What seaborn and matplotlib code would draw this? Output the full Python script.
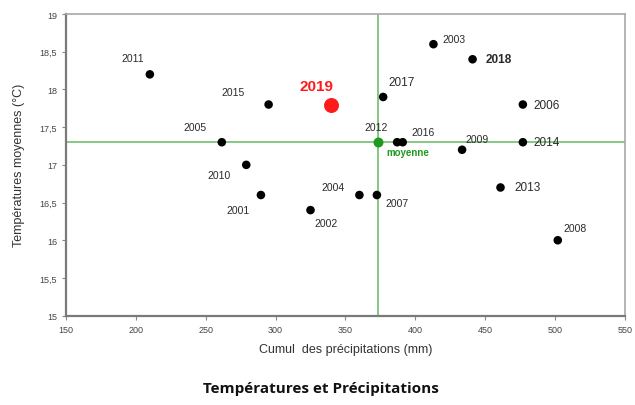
import matplotlib
matplotlib.use("Agg")
import matplotlib.pyplot as plt
import matplotlib.ticker as mticker
import seaborn as sns
import pandas as pd

# data
years = ["2001", "2002", "2003", "2004", "2005", "2006", "2007", "2008", "2009", "2010",
         "2011", "2012", "2013", "2014", "2015", "2016", "2017", "2018"]
precip = [289.5, 325, 413, 360, 261.5, 477, 372.5, 502, 433.5, 279,
          210, 387, 461, 477, 295, 391, 377, 441]
temp = [16.6, 16.4, 18.6, 16.6, 17.3, 17.8, 16.6, 16.0, 17.2, 17.0,
        18.2, 17.3, 16.7, 17.3, 17.8, 17.3, 17.9, 18.4]

year_2019 = "2019"
precip_2019 = 339.5
temp_2019 = 17.8

mean_precip = 373
mean_temp = 17.3

# label offsets in pixels (dx, dy)
label_offsets = {
    "2001": (-23, -15), "2002": (16, -13), "2003": (21, 5), "2004": (-26, 8),
    "2005": (-27, 15), "2006": (24, 0), "2007": (20, -8), "2008": (17, 12),
    "2009": (15, 11), "2010": (-27, -10), "2011": (-17, 16), "2012": (-21, 15),
    "2013": (27, 0), "2014": (24, 0), "2015": (-36, 13), "2016": (20, 10),
    "2017": (18, 15), "2018": (26, 0),
}
bigger = {"2006", "2013", "2014", "2017"}

df = pd.DataFrame({"annee": years, "precip": precip, "temp": temp})

sns.set_style("white")
plt.rcParams["font.family"] = ["Liberation Sans", "DejaVu Sans"]

fig = plt.figure(figsize=(6.35, 4.06), dpi=100)
ax = fig.add_axes([0.104, 0.22, 0.880, 0.743])

green = "#7cc47c"
ax.axhline(mean_temp, color=green, lw=1.3, zorder=1)
ax.axvline(mean_precip, color=green, lw=1.3, zorder=1)

sns.scatterplot(data=df, x="precip", y="temp", color="black", s=38,
                edgecolor="none", ax=ax, zorder=3)
ax.scatter([mean_precip], [mean_temp], color="#1f9a1f", s=38, zorder=4)
ax.scatter([precip_2019], [temp_2019], color="#ff1a1a", s=95, zorder=4)

for yr, x, y in zip(years, precip, temp):
    dx, dy = label_offsets[yr]
    bold = yr == "2018"
    size = 8.5 if (bold or yr in bigger) else 7.5
    ax.annotate(yr, (x, y), xytext=(dx, dy), textcoords="offset pixels",
                ha="center", va="center", fontsize=size,
                fontweight="bold" if bold else "normal", color="#2a2a2a")

ax.annotate(year_2019, (precip_2019, temp_2019), xytext=(-14, 19),
            textcoords="offset pixels", ha="center", va="center",
            fontsize=11, fontweight="bold", color="#ff1a1a")
ax.annotate("moyenne", (mean_precip, mean_temp), xytext=(30, -10),
            textcoords="offset pixels", ha="center", va="center",
            fontsize=7, fontweight="bold", color="#1f9a1f")

ax.set_xlim(150, 550)
ax.set_ylim(15, 19)
ax.xaxis.set_major_locator(mticker.MultipleLocator(50))
ax.yaxis.set_major_locator(mticker.MultipleLocator(0.5))
ax.yaxis.set_major_formatter(mticker.FuncFormatter(lambda v, p: f"{v:g}".replace(".", ",")))
ax.tick_params(axis="both", labelsize=6.5, length=3, width=0.8,
               color="#888888", labelcolor="#444444", direction="out",
               bottom=True, left=True)

for side in ["left", "bottom"]:
    ax.spines[side].set_color("#7a7a7a")
    ax.spines[side].set_linewidth(1.6)
for side in ["top", "right"]:
    ax.spines[side].set_color("#a8a8a8")
    ax.spines[side].set_linewidth(1.2)

ax.set_xlabel("Cumul  des précipitations (mm)", fontsize=9, color="#333333", labelpad=7)
ax.set_ylabel("Températures moyennes (°C)", fontsize=9, color="#333333", labelpad=10)

fig.text(0.505, 0.043, "Températures et Précipitations", ha="center", va="center",
         fontsize=11, fontweight="bold", color="#111111", family="Open Sans")

fig.savefig("out.png", dpi=100)
